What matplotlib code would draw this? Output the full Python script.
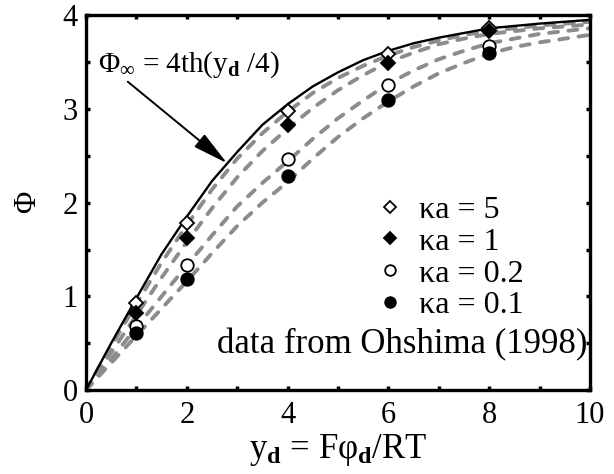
import matplotlib
matplotlib.use("Agg")
import matplotlib.pyplot as plt
from matplotlib.ticker import MultipleLocator

plt.rcParams["font.family"] = ["Liberation Serif", "DejaVu Serif"]
plt.rcParams["mathtext.fontset"] = "custom"
plt.rcParams["mathtext.rm"] = "Liberation Serif"
plt.rcParams["mathtext.it"] = "Liberation Serif"
plt.rcParams["mathtext.bf"] = "Liberation Serif:bold"

# ── data ────────────────────────────────────────────────────────────────────
# limiting curve Phi_inf = 4 tanh(y_d/4)
y_lim = [0, 0.5, 1, 1.5, 2, 2.5, 3, 3.5, 4, 4.5, 5, 5.5, 6, 6.5, 7, 7.5, 8, 9, 10]
phi_lim = [0, 0.50, 0.98, 1.45, 1.85, 2.23, 2.54, 2.83, 3.05, 3.24, 3.39, 3.52,
           3.62, 3.70, 3.76, 3.81, 3.86, 3.91, 3.95]

# dashed model curves (one per ka, top to bottom)
y_dash = [0, 0.5, 1, 1.5, 2, 2.5, 3, 3.5, 4, 4.5, 5, 5.5, 6, 6.5, 7, 7.5, 8,
          8.5, 9, 9.5, 10]
phi_dash = [
    [0, 0.47, 0.92, 1.36, 1.76, 2.14, 2.47, 2.74, 2.97, 3.17, 3.33, 3.46, 3.57,
     3.66, 3.73, 3.79, 3.83, 3.86, 3.89, 3.91, 3.93],
    [0, 0.40, 0.80, 1.20, 1.58, 1.94, 2.27, 2.55, 2.79, 3.01, 3.20, 3.36, 3.50,
     3.60, 3.69, 3.75, 3.80, 3.83, 3.86, 3.88, 3.90],
    [0, 0.33, 0.67, 1.00, 1.33, 1.65, 1.96, 2.21, 2.44, 2.68, 2.90, 3.09, 3.27,
     3.41, 3.53, 3.62, 3.70, 3.75, 3.80, 3.83, 3.86],
    [0, 0.29, 0.58, 0.87, 1.16, 1.46, 1.75, 2.00, 2.22, 2.47, 2.70, 2.90, 3.08,
     3.24, 3.38, 3.49, 3.59, 3.66, 3.71, 3.75, 3.79],
]

# Ohshima (1998) points
y_pts = [1, 2, 4, 6, 8]
phi_ka5 = [0.93, 1.78, 2.98, 3.59, 3.86]
phi_ka1 = [0.82, 1.62, 2.83, 3.49, 3.83]
phi_ka02 = [0.68, 1.33, 2.47, 3.25, 3.67]
phi_ka01 = [0.61, 1.19, 2.28, 3.09, 3.60]
labels = ["κa = 5", "κa = 1", "κa = 0.2", "κa = 0.1"]

# ── figure ──────────────────────────────────────────────────────────────────
fig = plt.figure(figsize=(6.14, 4.74), dpi=100)
ax = fig.add_axes([0.140, 0.177, 0.821, 0.791])

for ys in phi_dash:
    ax.plot(y_dash, ys, color="#8c8c8c", lw=2.8, dashes=(2.3, 2.7),
            dash_capstyle="round", zorder=2)
ax.plot(y_lim, phi_lim, color="black", lw=1.7, zorder=3)

mk = dict(linestyle="none", markeredgecolor="black", markeredgewidth=1.3, zorder=4)
ax.plot(y_pts, phi_ka5, marker="D", markersize=7.5, markerfacecolor="white",
        label=labels[0], **mk)
ax.plot(y_pts, phi_ka1, marker="D", markersize=7.5, markerfacecolor="black",
        label=labels[1], **mk)
ax.plot(y_pts, phi_ka02, marker="o", markersize=9, markerfacecolor="white",
        label=labels[2], **mk)
ax.plot(y_pts, phi_ka01, marker="o", markersize=9, markerfacecolor="black",
        label=labels[3], **mk)

ax.text(0.24, 3.47, r"$\Phi_\infty$ = 4th(y$_\mathbf{d}$ /4)", fontsize=21,
        va="center", ha="left")
ax.annotate("", xy=(2.80, 2.42), xytext=(0.83, 3.29),
            arrowprops=dict(arrowstyle="-|>,head_length=1.1,head_width=0.25",
                            color="black", lw=1.4, shrinkA=0, shrinkB=0,
                            mutation_scale=20))

ax.legend(loc="upper left", bbox_to_anchor=(0.552, 0.562), frameon=False,
          fontsize=23, handlelength=0.6, handletextpad=0.6, labelspacing=0.08,
          borderpad=0, markerscale=0.85)
ax.text(0.995, 0.12, "data from Ohshima (1998)", transform=ax.transAxes,
        ha="right", va="center", fontsize=25)

ax.set_xlim(0, 10)
ax.set_ylim(0, 4)
ax.xaxis.set_major_locator(MultipleLocator(2))
ax.xaxis.set_minor_locator(MultipleLocator(1))
ax.yaxis.set_major_locator(MultipleLocator(1))
ax.yaxis.set_minor_locator(MultipleLocator(0.5))
ax.tick_params(which="both", direction="in", top=True, right=True,
               length=3, width=2.5, labelsize=22)
ax.tick_params(axis="x", pad=8)
ax.tick_params(axis="y", pad=6)
for s in ax.spines.values():
    s.set_linewidth(2.4)

ax.set_xlabel(r"y$_\mathbf{d}$ = F$\varphi_\mathbf{d}$/RT", fontsize=25, labelpad=1)
ax.set_ylabel(r"$\Phi$", fontsize=22, labelpad=14)

fig.savefig("out.png", dpi=100)
